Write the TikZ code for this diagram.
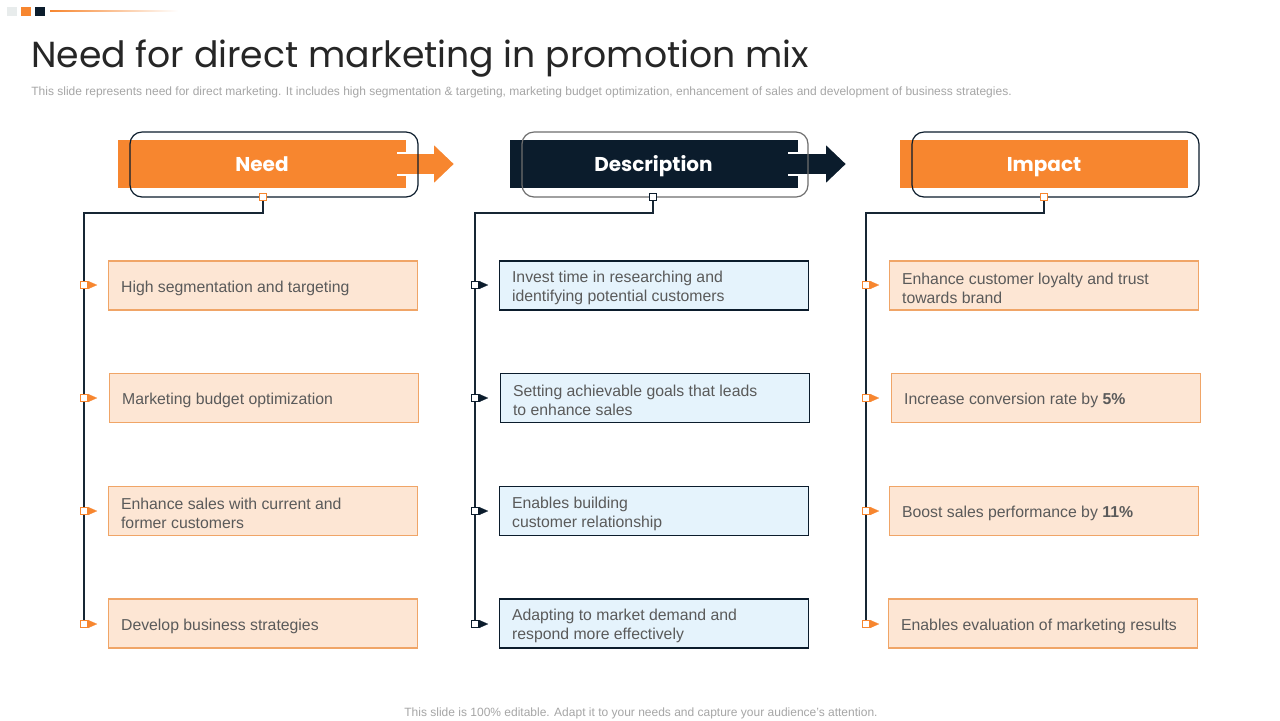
\documentclass[tikz,border=0pt]{standalone}
\usepackage{fontspec}
\setmainfont{Liberation Sans}
\newfontfamily\titlefont{Poppins}
\usetikzlibrary{arrows.meta,backgrounds}
\definecolor{orng}{HTML}{F7862F}
\definecolor{navy}{HTML}{0B1C2C}
\definecolor{orfill}{HTML}{FDE6D4}
\definecolor{orline}{HTML}{F0A567}
\definecolor{blfill}{HTML}{E5F3FC}
\definecolor{txt}{HTML}{5A5A5A}
\definecolor{subg}{HTML}{A6A6A6}
\definecolor{lgray}{HTML}{E8ECEC}
\definecolor{framegray}{HTML}{6E6E6E}
\newcommand{\itxt}[1]{\raisebox{-1.4pt}[\height][\depth]{\parbox{142pt}{\raggedright #1}}}
\begin{document}
\begin{tikzpicture}[x=0.5pt,y=-0.5pt,
  itembox/.style={anchor=west, minimum height=24.5pt, minimum width=154.5pt, inner xsep=6.25pt, inner ysep=0pt, font=\fontsize{7.9}{9.5}\selectfont, text=txt, line width=0.6pt},
  needbox/.style={itembox, draw=orline, fill=orfill},
  descbox/.style={itembox, draw=navy, fill=blfill},
  sqmark/.style={draw=#1, fill=white, minimum size=3.6pt, inner sep=0pt, line width=0.5pt},
  tipmark/.style={-{Triangle[length=4.5pt,width=4pt]}, draw=#1, fill=#1, line width=0.1pt},
  spine/.style={draw=navy!90!gray, line width=0.55pt},
  headbar/.style={minimum width=144pt, minimum height=24pt, inner sep=0pt, text height=7.2pt, text depth=0pt, text=white, font=\titlefont\bfseries\fontsize{10}{12}\selectfont},
  hframe/.style={rounded corners=6pt, line width=0.6pt}
]
\useasboundingbox (0,0) rectangle (1280,720);

% top decoration
\fill[lgray] (7,7) rectangle (17,16);
\fill[orng] (21,7) rectangle (31,16);
\fill[navy] (35,7) rectangle (45,16);
\shade[left color=orng, right color=white] (50,10.5) rectangle (178,11.7);

% title
\node[anchor=base west, inner sep=0pt, font=\titlefont\fontsize{18.1}{21}\selectfont, text=black!85] (title) at (31,67) {Need for direct marketing in promotion mix};
\node[anchor=base west, inner sep=0pt, font=\fontsize{6}{7}\selectfont, text=subg] (sub) at (31,95) {This slide represents need for direct marketing. It includes high segmentation \& targeting, marketing budget optimization, enhancement of sales and development of business strategies.};

% headers
\node[headbar, fill=orng] (b1) at (262,164) {Need};
\node[headbar, fill=navy] (b2) at (653.5,164) {Description};
\node[headbar, fill=orng] (b3) at (1044,164) {Impact};

\fill[orng] (397,153) -- (433,153) -- (433,143) -- (455,164) -- (433,185) -- (433,175) -- (397,175) -- cycle;
\draw[white, line width=0.8pt, line join=miter] (397,153) -- (433,153) -- (433,143) -- (455,164) -- (433,185) -- (433,175) -- (397,175);
\fill[navy] (788,153) -- (825,153) -- (825,143) -- (847,164) -- (825,185) -- (825,175) -- (788,175) -- cycle;
\draw[white, line width=0.8pt, line join=miter] (788,153) -- (825,153) -- (825,143) -- (847,164) -- (825,185) -- (825,175) -- (788,175);

\draw[hframe, draw=navy] (130,132) rectangle (418,197);
\draw[hframe, draw=framegray] (522,132) rectangle (808,197);
\draw[hframe, draw=navy] (912,132) rectangle (1199,197);

\node[sqmark=orng] (c1) at (263,197) {};
\node[sqmark=navy] (c2) at (653,197) {};
\node[sqmark=orng] (c3) at (1044,197) {};

% boxes
\node[needbox] (n1) at (108,285.5) {\itxt{High segmentation and targeting}};
\node[needbox] (n2) at (109,398) {\itxt{Marketing budget optimization}};
\node[needbox] (n3) at (108,511) {\itxt{Enhance sales with current and\\former customers}};
\node[needbox] (n4) at (108,623.5) {\itxt{Develop business strategies}};

\node[descbox] (d1) at (499,285.5) {\itxt{Invest time in researching and\\identifying potential customers}};
\node[descbox] (d2) at (500,398) {\itxt{Setting achievable goals that leads\\to enhance sales}};
\node[descbox] (d3) at (499,511) {\itxt{Enables building\\customer relationship}};
\node[descbox] (d4) at (499,623.5) {\itxt{Adapting to market demand and\\respond more effectively}};

\node[needbox] (i1) at (889,285.5) {\itxt{Enhance customer loyalty and trust\\towards brand}};
\node[needbox] (i2) at (891,398) {\itxt{Increase conversion rate by \textbf{5\%}}};
\node[needbox] (i3) at (889,511) {\itxt{Boost sales performance by \textbf{11\%}}};
\node[needbox] (i4) at (888,623.5) {\itxt{Enables evaluation of marketing results}};

% markers
\foreach \r/\y in {1/285,2/398,3/511,4/624}{
  \node[sqmark=orng] (mn\r) at (84,\y) {};
  \node[sqmark=navy] (md\r) at (475,\y) {};
  \node[sqmark=orng] (mi\r) at (866,\y) {};
  \draw[tipmark=orng] (mn\r.east) -- ++(9,0);
  \draw[tipmark=navy] (md\r.east) -- ++(9,0);
  \draw[tipmark=orng] (mi\r.east) -- ++(9,0);
}

\begin{scope}[on background layer]
\fill[white] (0,0) rectangle (1280,720);
\draw[spine] (c1.center) -- ++(0,16) -| (mn4.center);
\draw[spine] (c2.center) -- ++(0,16) -| (md4.center);
\draw[spine] (c3.center) -- ++(0,16) -| (mi4.center);
\end{scope}

% footer
\node[anchor=base, inner sep=0pt, font=\fontsize{6}{7}\selectfont, text=subg] (foot) at (641,716) {This slide is 100\% editable. Adapt it to your needs and capture your audience's attention.};
\end{tikzpicture}
\end{document}
